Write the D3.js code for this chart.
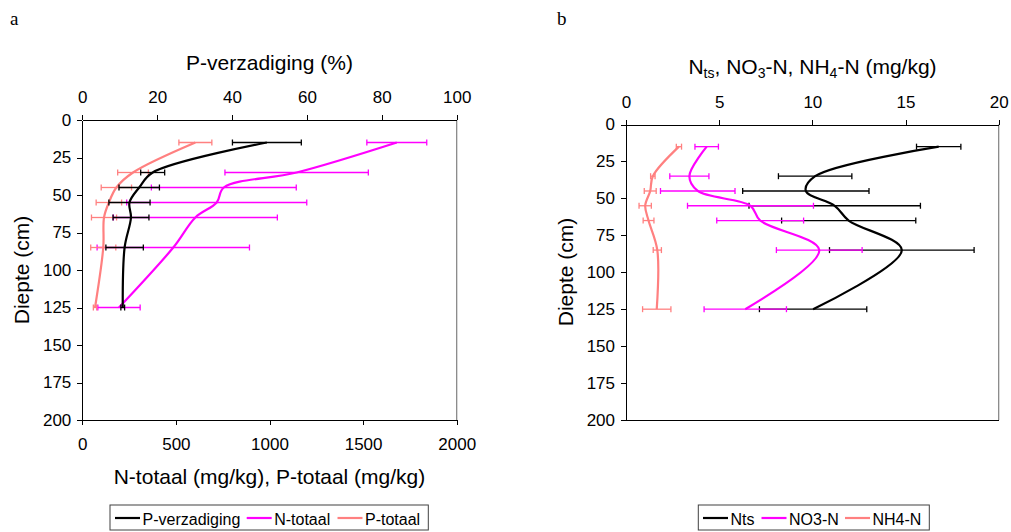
<!DOCTYPE html>
<html>
<head>
<meta charset="utf-8">
<script src="https://cdn.jsdelivr.net/npm/d3@7"></script>
<style>
body { margin: 0; background: #fff; }
svg text { font-family: "Liberation Sans", Arial, sans-serif; fill: #000; }
</style>
</head>
<body>
<svg id="chart" width="1011" height="532"></svg>
<script>
// Depths (cm) of the sampled layers
var depths = [15, 35, 45, 55, 65, 85, 125];

// Panel a
var pVerz = [49.3, 18.8, 15.2, 12.6, 13.0, 11.3, 10.8];
var pVerzErr = [9.2, 3.2, 5.4, 5.5, 4.8, 5.0, 0.5];
var nTot = [1680, 1145, 756, 718, 604, 486, 196];
var nTotErr = [160, 383, 387, 481, 438, 407, 113];
var pTot = [604, 271, 182, 142, 116, 112, 68];
var pTotErr = [88, 82, 81, 68, 67, 67, 9];

// Panel b
var nts = [16.78, 10.15, 9.65, 11.2, 11.95, 14.8, 10.04];
var ntsErr = [1.19, 1.97, 3.39, 4.6, 3.6, 3.88, 2.88];
var no3 = [4.33, 3.4, 3.85, 6.68, 7.2, 10.37, 6.4];
var no3Err = [0.63, 1.05, 2.0, 3.38, 2.33, 2.3, 2.21];
var nh4 = [2.84, 1.44, 1.3, 1.03, 1.21, 1.68, 1.65];
var nh4Err = [0.14, 0.12, 0.32, 0.33, 0.29, 0.22, 0.76];

// Tick labels
var depthTicks = [0, 25, 50, 75, 100, 125, 150, 175, 200];
var pctTicks = [0, 20, 40, 60, 80, 100];
var mgTicksA = [0, 500, 1000, 1500, 2000];
var mgTicksB = [0, 5, 10, 15, 20];

var legendA = ["P-verzadiging", "N-totaal", "P-totaal"];
var legendB = ["Nts", "NO3-N", "NH4-N"];
var colors = ["#000000", "#ff00ff", "#ff8080"];

var svg = d3.select("#chart");

// Scales
var xPct = d3.scaleLinear().domain([0, 100]).range([82.3, 456.7]);
var xMgA = d3.scaleLinear().domain([0, 2000]).range([82.3, 456.7]);
var yA = d3.scaleLinear().domain([0, 200]).range([120, 420]);
var xB = d3.scaleLinear().domain([0, 20]).range([626, 998.7]);
var yB = d3.scaleLinear().domain([0, 200]).range([124.5, 420]);

var fmt = d3.format("d");

function styleAxis(g) {
    g.select(".domain").attr("stroke", "#000").attr("stroke-width", 1);
    g.selectAll(".tick line").attr("stroke", "#000");
    g.selectAll(".tick text").attr("font-size", 17).attr("font-family", null);
    g.attr("shape-rendering", "crispEdges");
}

function frame(x0, x1, y0, y1) {
    // gray right border
    svg.append("line")
        .attr("x1", x1).attr("x2", x1).attr("y1", y0).attr("y2", y1)
        .attr("stroke", "#808080").attr("stroke-width", 1.2);
}

// ---- Panel a axes
frame(82.3, 456.7, 120, 420);
svg.append("g").attr("transform", "translate(82.3,0)")
    .call(d3.axisLeft(yA).tickValues(depthTicks).tickFormat(fmt).tickSize(5).tickPadding(6).tickSizeOuter(0))
    .call(styleAxis);
svg.append("g").attr("transform", "translate(0,120)")
    .call(d3.axisTop(xPct).tickValues(pctTicks).tickFormat(fmt).tickSize(5).tickPadding(12).tickSizeOuter(0))
    .call(styleAxis);
svg.append("g").attr("transform", "translate(0,420)")
    .call(d3.axisBottom(xMgA).tickValues(mgTicksA).tickFormat(fmt).tickSize(5).tickPadding(13).tickSizeOuter(0))
    .call(styleAxis);

// ---- Panel b axes
frame(626, 998.7, 124.5, 420);
svg.append("g").attr("transform", "translate(626,0)")
    .call(d3.axisLeft(yB).tickValues(depthTicks).tickFormat(fmt).tickSize(5).tickPadding(6).tickSizeOuter(0))
    .call(styleAxis);
svg.append("g").attr("transform", "translate(0,124.5)")
    .call(d3.axisTop(xB).tickValues(mgTicksB).tickFormat(fmt).tickSize(5).tickPadding(12).tickSizeOuter(0))
    .call(styleAxis);
svg.append("g").attr("transform", "translate(0,420)")
    .call(d3.axisBottom(xB).tickValues([]).tickSize(0).tickSizeOuter(0))
    .call(styleAxis);

// Series: smoothed line + horizontal error bars
function drawSeries(vals, errs, x, y, color) {
    var pts = depths.map(function(d, i) { return {d: d, v: vals[i], e: errs[i]}; });
    var g = svg.append("g");
    g.append("path").datum(pts)
        .attr("fill", "none")
        .attr("stroke", color)
        .attr("stroke-width", 2.2)
        .attr("d", d3.line()
            .x(p => x(p.v))
            .y(p => y(p.d))
            .curve(d3.curveCatmullRom.alpha(0.5)));
    var eb = g.append("g").attr("stroke", color).attr("stroke-width", 1.3);
    eb.selectAll("line.bar").data(pts).join("line")
        .attr("class", "bar")
        .attr("x1", p => x(p.v - p.e)).attr("x2", p => x(p.v + p.e))
        .attr("y1", p => y(p.d)).attr("y2", p => y(p.d));
    eb.selectAll("line.capl").data(pts).join("line")
        .attr("class", "capl")
        .attr("x1", p => x(p.v - p.e)).attr("x2", p => x(p.v - p.e))
        .attr("y1", p => y(p.d) - 3).attr("y2", p => y(p.d) + 3);
    eb.selectAll("line.capr").data(pts).join("line")
        .attr("class", "capr")
        .attr("x1", p => x(p.v + p.e)).attr("x2", p => x(p.v + p.e))
        .attr("y1", p => y(p.d) - 3).attr("y2", p => y(p.d) + 3);
}

drawSeries(nTot, nTotErr, xMgA, yA, colors[1]);
drawSeries(pTot, pTotErr, xMgA, yA, colors[2]);
drawSeries(pVerz, pVerzErr, xPct, yA, colors[0]);

drawSeries(nts, ntsErr, xB, yB, colors[0]);
drawSeries(no3, no3Err, xB, yB, colors[1]);
drawSeries(nh4, nh4Err, xB, yB, colors[2]);

// Titles
svg.append("text").attr("x", 269.5).attr("y", 69.5).attr("text-anchor", "middle")
    .attr("font-size", 21).text("P-verzadiging (%)");
svg.append("text").attr("x", 269.5).attr("y", 484).attr("text-anchor", "middle")
    .attr("font-size", 21).text("N-totaal (mg/kg), P-totaal (mg/kg)");
svg.append("text").attr("transform", "translate(28.5,270) rotate(-90)").attr("text-anchor", "middle")
    .attr("font-size", 21).text("Diepte (cm)");
svg.append("text").attr("transform", "translate(572.7,272) rotate(-90)").attr("text-anchor", "middle")
    .attr("font-size", 21).text("Diepte (cm)");

var tb = svg.append("text").attr("x", 812.5).attr("y", 73.5).attr("text-anchor", "middle")
    .attr("font-size", 21);
tb.append("tspan").text("N");
tb.append("tspan").attr("font-size", 14).attr("dy", 4).text("ts");
tb.append("tspan").attr("dy", -4).text(", NO");
tb.append("tspan").attr("font-size", 14).attr("dy", 4).text("3");
tb.append("tspan").attr("dy", -4).text("-N, NH");
tb.append("tspan").attr("font-size", 14).attr("dy", 4).text("4");
tb.append("tspan").attr("dy", -4).text("-N (mg/kg)");

// Panel letters
svg.append("text").attr("x", 10).attr("y", 25).attr("font-size", 19)
    .style("font-family", "'Liberation Serif', 'Times New Roman', serif").text("a");
svg.append("text").attr("x", 557).attr("y", 25).attr("font-size", 19)
    .style("font-family", "'Liberation Serif', 'Times New Roman', serif").text("b");

// Legends
function legend(x0, x1, lineX, names) {
    var g = svg.append("g");
    g.append("rect").attr("x", x0).attr("y", 505).attr("width", x1 - x0).attr("height", 25)
        .attr("fill", "#fff").attr("stroke", "#404040").attr("stroke-width", 1);
    names.forEach(function(n, i) {
        g.append("line").attr("x1", lineX[i]).attr("x2", lineX[i] + 25)
            .attr("y1", 518).attr("y2", 518)
            .attr("stroke", colors[i]).attr("stroke-width", 2.2);
        g.append("text").attr("x", lineX[i] + 27.5).attr("y", 524.5)
            .attr("font-size", 16).text(n);
    });
}
legend(110, 428.3, [115, 246.7, 337.5], legendA);
legend(698.3, 929.3, [703, 761.5, 845], legendB);
</script>
</body>
</html>
